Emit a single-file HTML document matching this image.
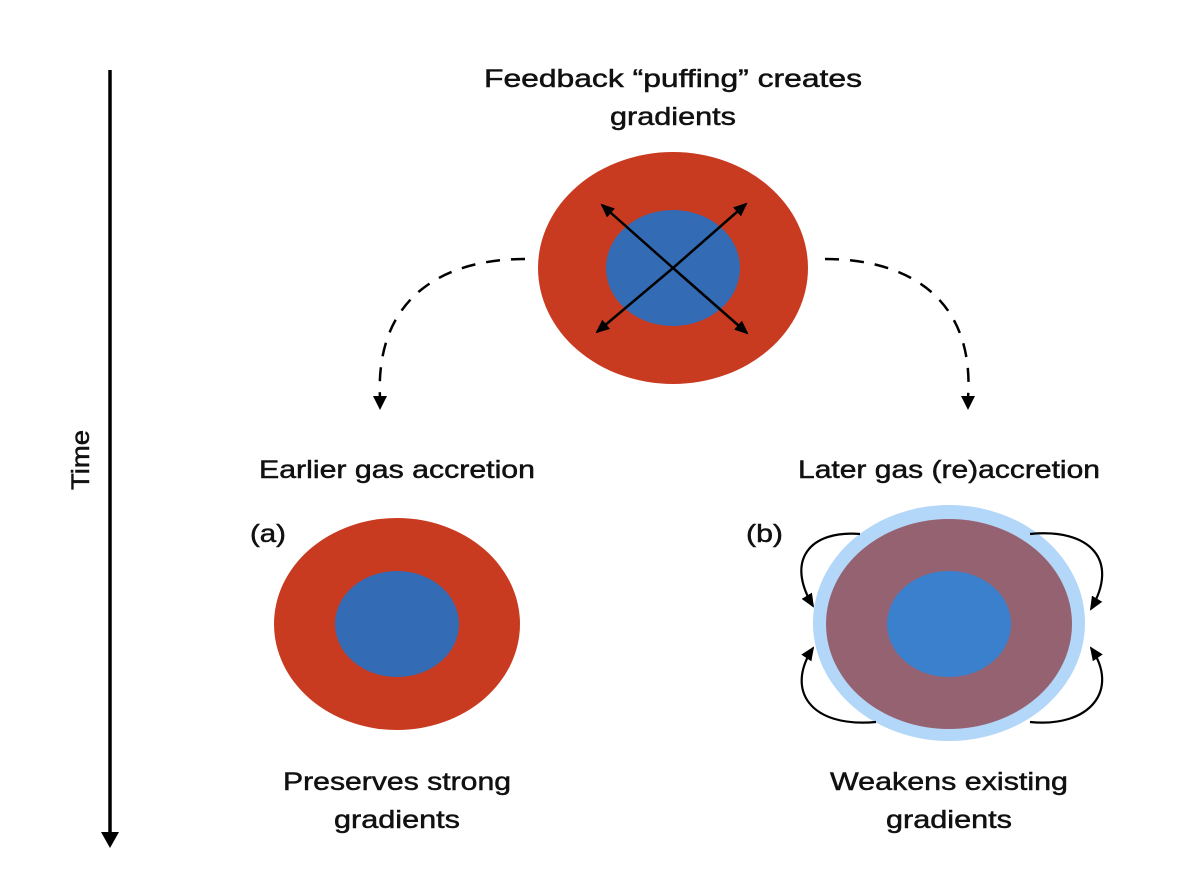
<!DOCTYPE html>
<html><head><meta charset="utf-8"><style>
html,body{margin:0;padding:0;background:#fff;}
svg{display:block;}
text{font-family:"Liberation Sans",sans-serif;font-size:25px;fill:#111;stroke:#111;stroke-width:0.5px;}
</style></head><body>
<svg width="1196" height="893" viewBox="0 0 1196 893" xmlns="http://www.w3.org/2000/svg">
<defs>
<marker id="ah" markerWidth="14" markerHeight="12" refX="12" refY="6" orient="auto" markerUnits="userSpaceOnUse">
<path d="M0,0 L14,6 L0,12 z" fill="#000"/>
</marker>
</defs>
<!-- Time axis -->
<line x1="110" y1="70" x2="110" y2="834" stroke="#000" stroke-width="3.5"/>
<path d="M101,832 L119,832 L110,848 z" fill="#000"/>
<text transform="translate(89,460) rotate(-90)" text-anchor="middle" textLength="60" lengthAdjust="spacingAndGlyphs">Time</text>

<!-- Titles -->
<text x="673" y="87" text-anchor="middle" textLength="378" lengthAdjust="spacingAndGlyphs">Feedback “puffing” creates</text>
<text x="673" y="125" text-anchor="middle" textLength="126" lengthAdjust="spacingAndGlyphs">gradients</text>
<text x="397" y="478" text-anchor="middle" textLength="276" lengthAdjust="spacingAndGlyphs">Earlier gas accretion</text>
<text x="949" y="478" text-anchor="middle" textLength="302" lengthAdjust="spacingAndGlyphs">Later gas (re)accretion</text>
<text x="250" y="542" textLength="36" lengthAdjust="spacingAndGlyphs">(a)</text>
<text x="746" y="542" textLength="37" lengthAdjust="spacingAndGlyphs">(b)</text>
<text x="397" y="790" text-anchor="middle" textLength="228" lengthAdjust="spacingAndGlyphs">Preserves strong</text>
<text x="397" y="828" text-anchor="middle" textLength="126" lengthAdjust="spacingAndGlyphs">gradients</text>
<text x="949" y="790" text-anchor="middle" textLength="238" lengthAdjust="spacingAndGlyphs">Weakens existing</text>
<text x="949" y="828" text-anchor="middle" textLength="126" lengthAdjust="spacingAndGlyphs">gradients</text>

<!-- Top ellipse -->
<ellipse cx="673" cy="268" rx="135" ry="116" fill="#c93b20"/>
<ellipse cx="673" cy="268" rx="67" ry="58" fill="#336bb4"/>
<g stroke="#000" stroke-width="2.5">
<line x1="673" y1="268" x2="602" y2="205" marker-end="url(#ah)"/>
<line x1="673" y1="268" x2="746" y2="204" marker-end="url(#ah)"/>
<line x1="673" y1="268" x2="597" y2="332" marker-end="url(#ah)"/>
<line x1="673" y1="268" x2="747" y2="333" marker-end="url(#ah)"/>
</g>

<!-- Dashed arcs -->
<path d="M525,259 C440,259 375,300 380,398" fill="none" stroke="#000" stroke-width="2.5" stroke-dasharray="14,11"/>
<path d="M373,396 L387,396 L380,410 z" fill="#000"/>
<path d="M825,259 C910,259 975,300 968,398" fill="none" stroke="#000" stroke-width="2.5" stroke-dasharray="14,11"/>
<path d="M961,396 L975,396 L968,410 z" fill="#000"/>

<!-- Bottom left -->
<ellipse cx="397" cy="624" rx="123" ry="106" fill="#c93b20"/>
<ellipse cx="397" cy="624" rx="62" ry="53" fill="#336bb4"/>

<!-- Bottom right -->
<ellipse cx="949" cy="623" rx="136" ry="118" fill="#b3d7f8"/>
<ellipse cx="949" cy="624" rx="123" ry="105" fill="#956272"/>
<ellipse cx="949" cy="624" rx="62" ry="53" fill="#3a80cc"/>

<g fill="none" stroke="#000" stroke-width="2.2">
<path d="M860,534 C810,530 785,560 813,606" marker-end="url(#ah)"/>
<path d="M876,722 C810,728 785,690 813,648" marker-end="url(#ah)"/>
<path d="M1030,534 C1090,528 1120,560 1091,609" marker-end="url(#ah)"/>
<path d="M1030,722 C1090,728 1120,690 1091,648" marker-end="url(#ah)"/>
</g>
</svg>
</body></html>
